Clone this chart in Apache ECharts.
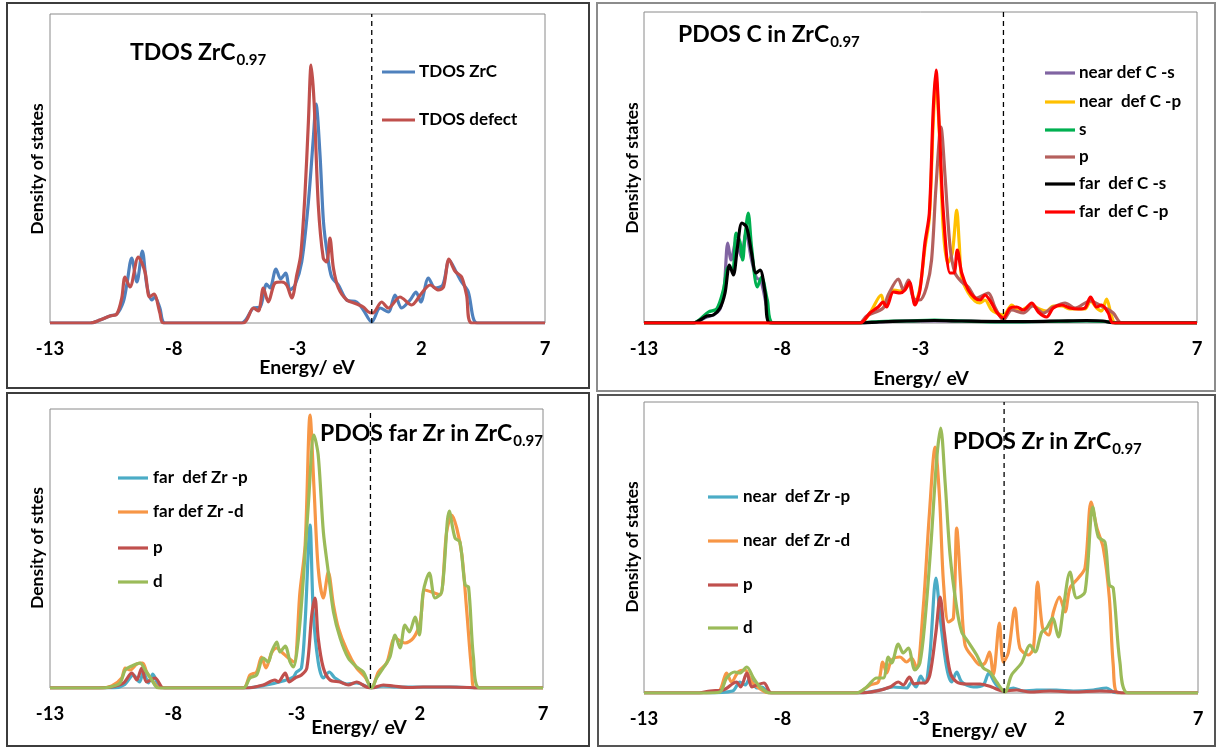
<!DOCTYPE html>
<html>
<head>
<meta charset="utf-8">
<script src="https://cdn.jsdelivr.net/npm/echarts@6/dist/echarts.min.js"></script>
<style>
html, body { margin: 0; padding: 0; background: #fff; }
#chart { width: 1217px; height: 748px; }
</style>
</head>
<body>
<div id="chart"></div>
<script>
// Energy axis ticks (eV), shared by all four panels; the Fermi level sits at 0.
const energyTicks = [-13, -8, -3, 2, 7];
const fermiLevel = 0;
const subscript = '0.97';

// ---- TDOS ZrC0.97 : [energy eV, DOS (arb. units)] ----
const tdosZrC = [[-13,0],[-11.38,0],[-10.98,3],[-10.58,7],[-10.30,9],[-10.04,21],[-9.90,38],[-9.70,65],[-9.49,41],[-9.27,72],[-9.09,38],[-8.89,23],[-8.76,26],[-8.56,15],[-8.35,0],[-5.26,0],[-4.78,15],[-4.51,16],[-4.25,39],[-4.11,35],[-3.87,54],[-3.68,44],[-3.48,50],[-3.30,33],[-3.10,38],[-2.83,61],[-2.56,121],[-2.36,185],[-2.25,219],[-2.09,168],[-1.95,101],[-1.79,68],[-1.62,46],[-1.35,38],[-1.01,23],[-0.61,21],[-0.34,13],[0,1],[0.34,15],[0.67,11],[0.94,28],[1.21,15],[1.55,23],[1.79,31],[1.98,21],[2.29,45],[2.56,35],[2.87,38],[3.13,63],[3.43,50],[3.63,41],[3.90,31],[4.10,5],[4.26,0],[7,0]];
const tdosDefect = [[-13,0],[-11.38,0],[-10.98,3],[-10.58,7],[-10.30,9],[-10.10,25],[-9.97,46],[-9.77,36],[-9.43,66],[-9.16,51],[-8.98,26],[-8.80,29],[-8.56,10],[-8.42,0],[-5.19,0],[-4.78,15],[-4.58,12],[-4.38,35],[-4.18,21],[-3.91,40],[-3.64,41],[-3.44,38],[-3.23,25],[-3.03,48],[-2.87,68],[-2.70,128],[-2.56,201],[-2.45,258],[-2.33,221],[-2.16,118],[-1.96,65],[-1.82,61],[-1.69,85],[-1.55,55],[-1.35,35],[-1.01,23],[-0.61,19],[-0.34,16],[-0.13,11],[0.04,10],[0.40,21],[0.67,15],[1.14,26],[1.61,18],[2.02,30],[2.36,38],[2.70,33],[2.90,36],[3.12,64],[3.36,52],[3.63,46],[3.83,28],[4.04,0],[7,0]];

// ---- PDOS C in ZrC0.97 ----
const nearDefCs = [[-13,0],[-11.22,0],[-10.73,6],[-10.49,8],[-10.25,14],[-10.10,35],[-9.97,80],[-9.85,63],[-9.66,83],[-9.48,66],[-9.31,90],[-9.11,63],[-8.93,45],[-8.78,43],[-8.56,16],[-8.41,0],[-5.2,0],[-4.5,1],[-3.5,2],[-2.5,2],[-1.5,2],[0,1],[1.5,1.5],[3,2],[3.9,1],[4.1,0],[7,0]];
const nearDefCp = [[-13,0],[-5.19,0],[-4.83,10],[-4.42,28],[-4.30,18],[-4.00,33],[-3.74,32],[-3.56,35],[-3.40,38],[-3.20,20],[-3.02,35],[-2.84,75],[-2.68,105],[-2.54,200],[-2.44,245],[-2.32,190],[-2.18,95],[-2.02,60],[-1.85,70],[-1.69,113],[-1.60,80],[-1.51,45],[-1.27,30],[-1.03,22],[-0.85,20],[-0.67,23],[-0.43,13],[-0.25,10],[0,8],[0.30,18],[0.55,12],[0.80,15],[1.02,18],[1.30,14],[1.56,12],[1.80,17],[2.11,17],[2.41,14],[2.71,14],[2.95,14],[3.15,22],[3.37,15],[3.55,12],[3.73,24],[3.90,8],[4.05,0],[7,0]];
const cS = [[-13,0],[-11.22,0],[-10.67,11],[-10.37,14],[-10.13,33],[-9.95,56],[-9.79,53],[-9.67,90],[-9.53,81],[-9.43,63],[-9.35,86],[-9.23,110],[-9.11,76],[-8.90,36],[-8.75,46],[-8.54,23],[-8.32,0],[-5.2,0],[-4.5,1.5],[-3.5,2],[-2.5,3],[-1.5,2],[0,1],[1.5,1.5],[3,2],[3.9,1],[4.1,0],[7,0]];
const cP = [[-13,0],[-5.2,0],[-4.95,7],[-4.35,15],[-4.17,28],[-3.80,44],[-3.62,33],[-3.44,43],[-3.26,25],[-3.02,23],[-2.78,36],[-2.60,63],[-2.44,136],[-2.26,196],[-2.11,146],[-1.93,76],[-1.75,50],[-1.51,41],[-1.27,36],[-0.97,25],[-0.55,30],[-0.31,16],[0,3],[0.30,13],[0.72,10],[1.06,17],[1.44,10],[1.80,16],[2.23,20],[2.59,15],[3.13,22],[3.61,16],[3.97,10],[4.28,0],[7,0]];
const farDefCs = [[-13,0],[-11.22,0],[-10.73,7],[-10.49,8],[-10.25,15],[-10.07,30],[-9.91,58],[-9.77,48],[-9.62,76],[-9.46,100],[-9.29,96],[-9.11,70],[-8.95,50],[-8.80,53],[-8.62,30],[-8.44,0],[-5.2,0],[-4.5,1],[-3.5,2],[-2.5,2.5],[-1.5,2],[0,1.5],[1,1.5],[2,2],[3,2.5],[3.6,2],[4.0,0],[7,0]];
const farDefCp = [[-13,0],[-5.19,0],[-4.83,10],[-4.53,16],[-4.35,21],[-4.23,16],[-3.98,31],[-3.74,30],[-3.56,33],[-3.40,41],[-3.20,18],[-3.02,33],[-2.84,80],[-2.68,110],[-2.54,213],[-2.44,253],[-2.32,196],[-2.18,113],[-1.93,50],[-1.79,50],[-1.67,73],[-1.51,50],[-1.27,33],[-1.03,25],[-0.85,23],[-0.67,28],[-0.43,20],[-0.25,11],[0,5],[0.24,15],[0.48,16],[0.72,13],[1.02,20],[1.26,11],[1.56,6],[1.80,15],[2.11,18],[2.41,15],[2.71,14],[2.95,15],[3.15,26],[3.37,16],[3.55,18],[3.79,10],[3.97,0],[7,0]];

// ---- PDOS far Zr in ZrC0.97 ----
const farDefZrP = [[-13,0],[-10.4,0],[-10.0,3],[-9.61,13],[-9.37,6],[-9.21,16],[-9.01,5],[-8.83,14],[-8.61,3],[-8.45,0],[-5.03,0],[-4.22,3],[-3.55,7],[-3.13,11],[-3.00,16],[-2.80,20],[-2.65,66],[-2.45,163],[-2.32,76],[-2.12,26],[-1.91,10],[-1.67,16],[-1.44,10],[-0.96,4],[-0.56,5],[0.05,0],[0.52,2],[1.07,1],[2.5,1],[3.5,1],[4.3,0],[7,0]];
const farDefZrD = [[-13,0],[-11,0],[-10.5,2],[-10.09,10],[-9.95,20],[-9.75,18],[-9.48,24],[-9.24,25],[-9.08,16],[-8.81,6],[-8.54,0],[-5.16,0],[-4.89,13],[-4.62,16],[-4.42,31],[-4.24,20],[-4.01,35],[-3.80,40],[-3.56,35],[-3.33,30],[-3.10,26],[-2.86,96],[-2.65,143],[-2.45,273],[-2.29,200],[-2.12,120],[-1.91,90],[-1.71,116],[-1.50,83],[-1.30,60],[-0.96,38],[-0.56,20],[-0.22,11],[0.05,0],[0.32,16],[0.66,25],[1.00,50],[1.40,45],[1.74,50],[2.01,65],[2.21,98],[2.48,96],[2.82,93],[3.09,156],[3.30,173],[3.50,160],[3.71,133],[3.91,76],[4.11,16],[4.24,0],[7,0]];
const farZrP = [[-13,0],[-11,0],[-10.5,1],[-10.02,5],[-9.68,15],[-9.48,8],[-9.28,20],[-9.08,6],[-8.74,10],[-8.47,1],[-8.35,0],[-5.03,0],[-4.35,3],[-3.88,8],[-3.74,6],[-3.46,15],[-3.29,6],[-3.06,10],[-2.80,13],[-2.58,20],[-2.38,73],[-2.25,90],[-2.12,50],[-1.91,20],[-1.64,8],[-1.23,6],[-0.90,3],[-0.56,6],[-0.16,1],[0.05,0],[0.52,3],[0.93,2],[1.61,0.5],[2.14,1],[3.22,1],[4.04,0.5],[4.3,0],[7,0]];
const farZrD = [[-13,0],[-11,0],[-10.57,1],[-10.16,5],[-9.95,18],[-9.68,22],[-9.35,25],[-9.14,18],[-8.87,8],[-8.61,0],[-5.16,0],[-4.89,10],[-4.62,13],[-4.35,30],[-4.15,26],[-4.01,36],[-3.80,46],[-3.67,36],[-3.46,42],[-3.26,26],[-3.13,21],[-2.92,50],[-2.72,110],[-2.52,183],[-2.29,253],[-2.12,233],[-1.91,156],[-1.71,116],[-1.50,76],[-1.23,50],[-0.90,30],[-0.56,21],[-0.29,16],[0.05,0],[0.25,10],[0.52,20],[0.79,31],[1.00,53],[1.20,40],[1.40,63],[1.58,56],[1.81,71],[1.98,53],[2.14,96],[2.39,115],[2.62,90],[2.89,96],[3.20,177],[3.43,150],[3.63,146],[3.84,103],[3.98,101],[4.18,30],[4.44,0],[7,0]];

// ---- PDOS Zr in ZrC0.97 (near the vacancy) ----
const nearDefZrP = [[-13,0],[-10.8,0],[-9.8,2],[-9.54,11],[-9.35,8],[-9.17,15],[-8.93,5],[-8.75,6],[-8.45,0],[-5.2,0],[-4.48,3],[-4.00,6],[-3.52,5],[-3.34,11],[-3.18,6],[-3.01,17],[-2.86,10],[-2.68,38],[-2.46,115],[-2.29,71],[-2.07,25],[-1.89,11],[-1.71,21],[-1.53,11],[-1.11,6],[-0.75,8],[-0.55,20],[-0.33,10],[-0.03,2],[0.33,5],[0.68,2],[1.17,3],[1.89,3],[2.50,2],[3.22,3],[3.70,5],[3.94,1],[4.1,0],[7,0]];
const nearDefZrD = [[-13,0],[-11,0],[-10.3,2],[-10.02,20],[-9.84,11],[-9.60,21],[-9.35,23],[-9.11,11],[-8.75,3],[-8.5,0],[-5.32,0],[-4.84,8],[-4.54,11],[-4.38,31],[-4.24,20],[-4.06,33],[-3.76,36],[-3.52,31],[-3.34,35],[-3.16,25],[-2.92,85],[-2.70,178],[-2.49,246],[-2.33,195],[-2.19,111],[-2.01,71],[-1.83,75],[-1.71,165],[-1.56,105],[-1.41,48],[-1.11,35],[-0.87,28],[-0.69,30],[-0.53,41],[-0.39,18],[-0.17,70],[-0.03,31],[0.15,40],[0.39,85],[0.57,45],[0.88,38],[1.06,45],[1.21,111],[1.39,65],[1.60,58],[1.78,81],[2.00,96],[2.20,81],[2.38,105],[2.68,115],[2.92,125],[3.14,191],[3.35,165],[3.58,145],[3.80,95],[3.94,28],[4.12,0],[7,0]];
const zrP = [[-13,0],[-11,0],[-10.62,2],[-10.14,3],[-9.66,11],[-9.51,6],[-9.29,20],[-9.11,6],[-8.93,8],[-8.67,10],[-8.39,0],[-5.2,0],[-4.60,2],[-4.12,6],[-3.82,11],[-3.64,8],[-3.42,16],[-3.25,9],[-3.06,10],[-2.86,10],[-2.68,18],[-2.46,61],[-2.31,96],[-2.16,61],[-1.95,21],[-1.71,11],[-1.35,9],[-0.87,9],[-0.45,6],[-0.03,2],[0.45,3],[0.94,1],[1.66,2],[2.50,1],[3.46,2],[4.06,1],[4.3,0],[7,0]];
const zrD = [[-13,0],[-10.8,0],[-10.26,1],[-10.02,15],[-9.72,21],[-9.54,20],[-9.29,26],[-9.05,15],[-8.81,6],[-8.45,0],[-5.32,0],[-4.96,6],[-4.60,15],[-4.36,15],[-4.18,36],[-4.06,30],[-3.82,49],[-3.64,40],[-3.46,45],[-3.22,23],[-3.04,30],[-2.86,71],[-2.65,145],[-2.43,235],[-2.29,265],[-2.13,211],[-1.95,138],[-1.71,85],[-1.53,61],[-1.29,51],[-0.99,38],[-0.75,25],[-0.51,21],[-0.27,11],[0.03,1],[0.27,18],[0.63,30],[0.94,48],[1.12,41],[1.36,61],[1.54,65],[1.75,75],[1.96,56],[2.14,85],[2.38,121],[2.62,95],[2.92,101],[3.20,186],[3.40,156],[3.64,151],[3.80,108],[3.94,105],[4.18,31],[4.48,0],[7,0]];

// ---- panel layout ----
const FONT = 'Lato';
const panels = [
  { frame: [7, 3, 582, 385], frameColor: '#3c3c3c',
    grid: { left: 50, top: 14, width: 495, height: 309 }, yMax: 309,
    title: 'TDOS ZrC', titlePos: [130, 53],
    xTitle: [307, 368], yTitle: [37, 169], yText: 'Density of states',
    legend: { x1: 382, x2: 415, tx: 419, ys: [72, 120] },
    series: [
      { name: 'TDOS ZrC', color: '#4F81BD', data: tdosZrC },
      { name: 'TDOS defect', color: '#C0504D', data: tdosDefect }
    ] },
  { frame: [597, 3, 618, 388], frameColor: '#8c8c8c',
    grid: { left: 644, top: 12, width: 553, height: 311 }, yMax: 311,
    title: 'PDOS C in ZrC', titlePos: [678, 35],
    xTitle: [921, 379], yTitle: [632, 168], yText: 'Density of states',
    legend: { x1: 1045, x2: 1075, tx: 1079, ys: [73, 102, 130, 157, 184, 212] },
    series: [
      { name: 'near def C -s', color: '#8064A2', data: nearDefCs },
      { name: 'near  def C -p', color: '#FFC000', data: nearDefCp },
      { name: 's', color: '#00B050', data: cS },
      { name: 'p', color: '#B5605D', data: cP },
      { name: 'far  def C -s', color: '#000000', data: farDefCs },
      { name: 'far  def C -p', color: '#FF0000', data: farDefCp }
    ] },
  { frame: [7, 393, 582, 353], frameColor: '#3c3c3c',
    grid: { left: 50, top: 409, width: 493, height: 279 }, yMax: 279,
    title: 'PDOS far Zr in ZrC', titlePos: [320, 434],
    xTitle: [359, 728], yTitle: [37, 548], yText: 'Density of sttes',
    legend: { x1: 118, x2: 148, tx: 153, ys: [478, 512, 548, 582] },
    series: [
      { name: 'far  def Zr -p', color: '#4BACC6', data: farDefZrP },
      { name: 'far def Zr -d', color: '#F79646', data: farDefZrD },
      { name: 'p', color: '#C0504D', data: farZrP },
      { name: 'd', color: '#9BBB59', data: farZrD }
    ] },
  { frame: [598, 395, 617, 351], frameColor: '#555555',
    grid: { left: 644, top: 402, width: 554, height: 291 }, yMax: 291,
    title: 'PDOS Zr in ZrC', titlePos: [953, 442],
    xTitle: [979, 731], yTitle: [632, 547], yText: 'Density of states',
    legend: { x1: 708, x2: 738, tx: 743, ys: [497, 541, 585, 628] },
    series: [
      { name: 'near  def Zr -p', color: '#4BACC6', data: nearDefZrP },
      { name: 'near  def Zr -d', color: '#F79646', data: nearDefZrD },
      { name: 'p', color: '#C0504D', data: zrP },
      { name: 'd', color: '#9BBB59', data: zrD }
    ] }
];

const TITLE_SIZE = 23, SUB_SIZE = 15, LEGEND_SIZE = 17, TICK_SIZE = 18.5;
const X_TITLE_SIZE = 19.5, Y_TITLE_SIZE = 17.5;

const measureCtx = document.createElement('canvas').getContext('2d');
function textWidth(str, size) {
  measureCtx.font = 'bold ' + size + 'px ' + FONT;
  return measureCtx.measureText(str).width;
}
function label(x, y, text, size, extra) {
  return Object.assign({
    type: 'text', x: x, y: y, silent: true,
    style: Object.assign({ text: text, fontFamily: FONT, fontWeight: 'bold', fontSize: size,
      fill: '#000', textAlign: 'left', verticalAlign: 'middle' }, (extra && extra.style) || {})
  }, extra && extra.rotation ? { rotation: extra.rotation } : {});
}

const grids = [], xAxes = [], yAxes = [], series = [], graphics = [];
panels.forEach((p, i) => {
  grids.push(Object.assign({ show: true, borderColor: '#8a8a8a', borderWidth: 1, backgroundColor: 'transparent' }, p.grid));
  xAxes.push({
    type: 'value', gridIndex: i,
    min: energyTicks[0], max: energyTicks[energyTicks.length - 1], interval: energyTicks[1] - energyTicks[0],
    axisLine: { show: false }, axisTick: { show: false }, splitLine: { show: false },
    axisLabel: { show: true, margin: 17, color: '#000', fontFamily: FONT, fontWeight: 'bold', fontSize: TICK_SIZE,
      showMinLabel: true, showMaxLabel: true }
  });
  yAxes.push({
    type: 'value', gridIndex: i, min: 0, max: p.yMax,
    axisLine: { show: false }, axisTick: { show: false }, splitLine: { show: false }, axisLabel: { show: false }
  });
  p.series.forEach(s => {
    series.push({
      type: 'line', name: s.name, xAxisIndex: i, yAxisIndex: i, data: s.data,
      showSymbol: false, symbol: 'none', smooth: 0.3, clip: true,
      lineStyle: { color: s.color, width: 3.2 }, itemStyle: { color: s.color }, z: 3
    });
  });
  // Fermi level marker
  series.push({
    type: 'line', name: 'Fermi level', xAxisIndex: i, yAxisIndex: i,
    data: [[fermiLevel, 0], [fermiLevel, p.yMax]], showSymbol: false, symbol: 'none',
    lineStyle: { color: '#000', width: 1.3, type: [5, 4] }, z: 6, silent: true
  });

  // panel frame
  graphics.push({ type: 'rect', silent: true,
    shape: { x: p.frame[0], y: p.frame[1], width: p.frame[2], height: p.frame[3] },
    style: { fill: 'none', stroke: p.frameColor, lineWidth: 2 } });
  // panel title with subscript
  const w = textWidth(p.title, TITLE_SIZE);
  graphics.push(label(p.titlePos[0], p.titlePos[1], p.title, TITLE_SIZE));
  graphics.push(label(p.titlePos[0] + w + 1, p.titlePos[1] + 7, subscript, SUB_SIZE));
  // legend
  p.series.forEach((s, k) => {
    const y = p.legend.ys[k];
    graphics.push({ type: 'line', silent: true,
      shape: { x1: p.legend.x1, y1: y, x2: p.legend.x2, y2: y },
      style: { stroke: s.color, lineWidth: 3.2 } });
    graphics.push(label(p.legend.tx, y, s.name, LEGEND_SIZE));
  });
  // axis titles
  graphics.push(label(p.xTitle[0], p.xTitle[1], 'Energy/ eV', X_TITLE_SIZE, { style: { textAlign: 'center' } }));
  graphics.push(label(p.yTitle[0], p.yTitle[1], p.yText, Y_TITLE_SIZE, { style: { textAlign: 'center' }, rotation: Math.PI / 2 }));
});

const chart = echarts.init(document.getElementById('chart'), null, { renderer: 'canvas' });
chart.setOption({
  animation: false,
  backgroundColor: '#ffffff',
  grid: grids, xAxis: xAxes, yAxis: yAxes, series: series,
  graphic: { elements: graphics }
});
</script>
</body>
</html>
